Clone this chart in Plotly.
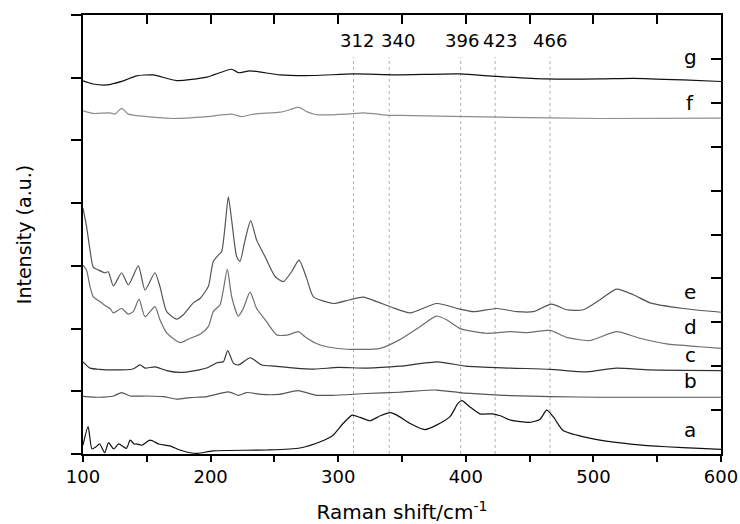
import plotly.graph_objects as go

# Raman spectra, offset vertically (shift in cm^-1, intensity in arbitrary units)
a_x = [100, 104, 107, 110, 113, 117, 120, 124, 128, 134, 137, 140, 142, 146, 152.5, 160, 168, 176, 184, 190,
       202, 244, 270, 286, 296, 304, 311, 317, 325, 333, 341, 346, 356, 368, 377, 387.6, 394, 397, 403, 411,
       421, 427, 435, 450, 458, 463.4, 468.5, 476, 487, 505, 531, 557, 583.5, 600]
a_y = [0.14, 0.435, 0.08, 0.11, 0.16, 0.02, 0.18, 0.08, 0.16, 0.09, 0.22, 0.16, 0.16, 0.14, 0.22, 0.155, 0.13, 0.064, 0.02, 0.01,
       0.05, 0.064, 0.096, 0.196, 0.30, 0.49, 0.62, 0.585, 0.53, 0.61, 0.66, 0.62, 0.49, 0.39, 0.46, 0.595, 0.81, 0.85, 0.755, 0.64,
       0.64, 0.61, 0.54, 0.505, 0.55, 0.70, 0.595, 0.38, 0.30, 0.22, 0.155, 0.116, 0.09, 0.075]

b_x = [100, 113, 124, 130.3, 137, 150, 163, 173.4, 184, 197, 214, 222, 228, 240, 253, 268.7, 282, 296, 322, 348,
       377, 395, 416, 435, 466, 505, 600]
b_y = [0.92, 0.905, 0.925, 0.98, 0.925, 0.925, 0.915, 0.875, 0.90, 0.915, 0.99, 0.935, 0.98, 0.95, 0.95, 1.01, 0.94, 0.935, 0.965, 0.985,
       1.02, 0.98, 0.95, 0.93, 0.915, 0.905, 0.905]

c_x = [100, 105.5, 113, 124, 139, 144.7, 148.6, 156.4, 165.6, 176, 188, 198, 205, 210, 213.4, 218, 222, 231, 240, 250.5,
       266, 282, 300, 322, 348, 378, 400, 435, 466, 495, 518, 544, 600]
c_y = [1.47, 1.37, 1.35, 1.34, 1.355, 1.42, 1.37, 1.39, 1.33, 1.30, 1.33, 1.38, 1.455, 1.47, 1.65, 1.445, 1.42, 1.535, 1.42, 1.40,
       1.37, 1.355, 1.38, 1.37, 1.40, 1.47, 1.40, 1.37, 1.35, 1.31, 1.37, 1.34, 1.33]

d_x = [100, 102.8, 105.5, 108, 113.3, 118.6, 121.2, 123.8, 130.3, 135.5, 139.4, 143.9, 148.6, 156.4, 160.3, 165.6, 176, 184, 191.7, 198.2,
       202.1, 207.4, 210, 213.1, 216.5, 221.7, 225.6, 230.9, 236.1, 243.9, 251.8, 260.9, 268.7, 274, 282, 291, 306.6, 332.8, 348, 364,
       377, 385, 395.5, 416, 434.6, 447.7, 466, 479, 497.3, 518.2, 536.5, 557.4, 583.5, 600]
d_y = [3.01, 2.93, 2.67, 2.51, 2.43, 2.35, 2.32, 2.25, 2.32, 2.23, 2.27, 2.47, 2.19, 2.35, 2.14, 1.93, 1.775, 1.845, 1.91, 2.03,
       2.27, 2.38, 2.62, 2.95, 2.51, 2.20, 2.32, 2.58, 2.32, 2.11, 1.90, 1.90, 1.95, 1.87, 1.77, 1.71, 1.67, 1.685, 1.82, 2.03,
       2.20, 2.14, 2.00, 1.925, 1.95, 1.935, 1.97, 1.86, 1.81, 1.95, 1.845, 1.755, 1.71, 1.685]

e_x = [100, 102.8, 105.5, 108, 112, 117.2, 119.8, 123.8, 130.3, 135.5, 143.4, 148.6, 156.4, 160.3, 165.6, 173.4, 178.6, 186.4, 191.7, 198.2,
       202.1, 206, 208.7, 211.3, 213.9, 216.5, 220.4, 223, 227, 231.4, 236.1, 242.6, 250.5, 257, 263.6, 269.3, 275.3, 280.5, 296.2, 309.2,
       319.7, 330.1, 341.9, 356.3, 377.2, 395.5, 405.9, 424.2, 439.8, 452.9, 467.3, 479, 492.1, 505.2, 518.2, 531.3, 544.4, 570.5, 600]
e_y = [3.92, 3.625, 3.25, 2.98, 2.935, 2.89, 2.905, 2.68, 2.89, 2.695, 3.00, 2.615, 2.89, 2.67, 2.27, 2.15, 2.22, 2.41, 2.48, 2.67,
       3.07, 3.17, 3.23, 3.625, 4.10, 3.73, 3.15, 3.07, 3.41, 3.72, 3.41, 3.15, 2.83, 2.75, 2.91, 3.09, 2.80, 2.51, 2.40, 2.46,
       2.50, 2.43, 2.34, 2.25, 2.40, 2.31, 2.27, 2.32, 2.27, 2.27, 2.39, 2.30, 2.30, 2.46, 2.63, 2.54, 2.41, 2.32, 2.26]

f_x = [100, 108, 121, 125, 130.3, 135.5, 144.7, 170.8, 197, 216.5, 224.4, 233.5, 254.4, 262.2, 268.7, 275.3, 283.1, 306.6, 319.7, 340.6,
       348.4, 426.8, 505.2, 600]
f_y = [5.47, 5.43, 5.44, 5.42, 5.51, 5.42, 5.39, 5.35, 5.38, 5.42, 5.38, 5.42, 5.45, 5.49, 5.53, 5.46, 5.41, 5.42, 5.44, 5.40,
       5.40, 5.37, 5.35, 5.355]

g_x = [100, 108, 118.6, 131.6, 142, 155, 173.4, 197, 216.5, 221.7, 230.9, 254.4, 280.5, 311.8, 345.8, 395.5, 424.2, 463.4, 505.2, 531.3,
       570.5, 600]
g_y = [5.95, 5.90, 5.885, 5.95, 6.03, 6.045, 5.955, 6.01, 6.135, 6.08, 6.11, 6.045, 6.035, 6.06, 6.045, 6.06, 6.02, 5.98, 5.98, 5.99,
       5.965, 5.94]

series_names = ["a", "b", "c", "d", "e", "f", "g"]
series_x = [a_x, b_x, c_x, d_x, e_x, f_x, g_x]
series_y = [a_y, b_y, c_y, d_y, e_y, f_y, g_y]
series_colors = ["#111111", "#555555", "#333333", "#6e6e6e", "#555555", "#8c8c8c", "#111111"]
label_y = [0.38, 1.16, 1.58, 2.03, 2.58, 5.60, 6.33]
label_x = 576

# reference band positions (cm^-1)
band_positions = [312, 340, 396, 423, 466]
band_label_x = [314.5, 347, 397, 427, 466]

FONT = "DejaVu Sans"

fig = go.Figure()
for name, xs, ys, col in zip(series_names, series_x, series_y, series_colors):
    fig.add_trace(go.Scatter(x=xs, y=ys, mode="lines", name=name,
                             line=dict(color=col, width=1.2, shape="spline", smoothing=0.6),
                             showlegend=False, hoverinfo="skip"))

# helper trace so the mirrored top/right axes are drawn
fig.add_trace(go.Scatter(x=[None], y=[None], xaxis="x2", yaxis="y2", showlegend=False))

for bp in band_positions:
    fig.add_shape(type="line", x0=bp, x1=bp, y0=0, y1=6.33, xref="x", yref="y",
                  line=dict(color="#b0b0b0", width=1, dash="dot"), layer="below")

for txt, bx in zip(band_positions, band_label_x):
    fig.add_annotation(x=bx, y=6.59, xref="x", yref="y", text=str(txt), showarrow=False,
                       font=dict(family=FONT, size=18, color="black"), xanchor="center", yanchor="middle")

for name, ly in zip(series_names, label_y):
    fig.add_annotation(x=label_x, y=ly, xref="x", yref="y", text=name, showarrow=False,
                       font=dict(family=FONT, size=20, color="black"), xanchor="center", yanchor="middle")

fig.update_layout(
    width=740, height=524,
    margin=dict(l=83, r=19, t=15, b=70, autoexpand=False),
    paper_bgcolor="white", plot_bgcolor="white",
    font=dict(family=FONT, color="black"),
    xaxis=dict(range=[100, 600], dtick=100, tick0=100, ticks="outside", ticklen=6,
               tickwidth=1.5, tickcolor="black", showline=True, linewidth=1.5, linecolor="black",
               minor=dict(dtick=50, ticks="outside", ticklen=6, tickwidth=1.5, tickcolor="black", showgrid=False),
               showgrid=False, zeroline=False, tickfont=dict(size=18, family=FONT), automargin=False,
               title=dict(text="Raman shift/cm<sup>-1</sup>", font=dict(size=20, family=FONT), standoff=25)),
    xaxis2=dict(range=[100, 600], overlaying="x", side="top", dtick=50, tick0=100, ticks="inside",
                ticklen=9, tickwidth=1.5, tickcolor="black", showline=True, linewidth=1.5,
                linecolor="black", showticklabels=False, showgrid=False, zeroline=False, automargin=False),
    yaxis=dict(range=[0, 7], dtick=1, tick0=0, ticks="outside", ticklen=10, tickwidth=1.5,
               tickcolor="black", showline=True, linewidth=1.5, linecolor="black", showticklabels=False,
               showgrid=False, zeroline=False, automargin=False,
               title=dict(text="Intensity (a.u.)", font=dict(size=19, family=FONT), standoff=35)),
    yaxis2=dict(range=[0, 10], overlaying="y", side="right", dtick=1, tick0=0, ticks="inside",
                ticklen=10, tickwidth=1.5, tickcolor="black", showline=True, linewidth=1.5,
                linecolor="black", showticklabels=False, showgrid=False, zeroline=False, automargin=False),
)

fig.write_html("out.html")
